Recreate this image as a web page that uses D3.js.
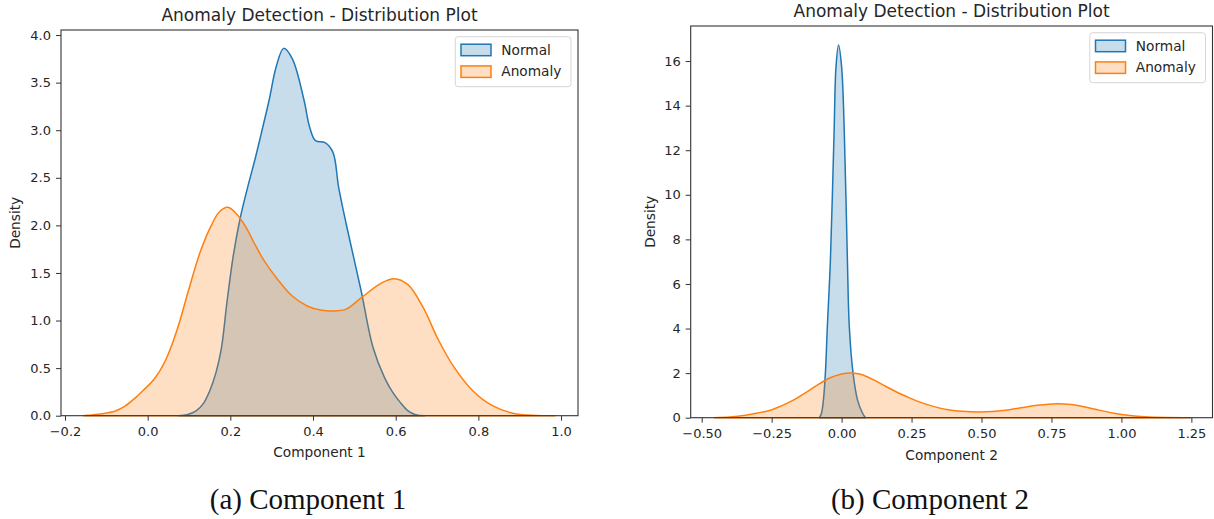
<!DOCTYPE html>
<html><head><meta charset="utf-8">
<script src="https://cdn.jsdelivr.net/npm/d3@7"></script>
<style>
html,body{margin:0;padding:0;background:#fff;}
svg{display:block;}
</style></head>
<body>
<svg id="chart" width="1214" height="519"></svg>
<script>
// ---------- DATA ----------
const seriesNames = ["Normal", "Anomaly"];
const colors = ["#1f77b4", "#ff7f0e"];

// Component 1 density
const c1NormalX = [0.075,0.095,0.117,0.135,0.150,0.165,0.178,0.192,0.207,0.224,0.243,0.260,0.275,0.294,0.311,0.329,0.350,0.378,0.392,0.406,0.429,0.448,0.462,0.480,0.499,0.517,0.545,0.573,0.592,0.611,0.630,0.648,0.670];
const c1NormalY = [0,0.01,0.05,0.13,0.26,0.45,0.70,1.20,1.68,2.08,2.42,2.70,2.97,3.32,3.67,3.86,3.75,3.32,3.03,2.89,2.87,2.77,2.40,2.02,1.65,1.30,0.72,0.40,0.25,0.14,0.05,0.01,0];
const c1AnomalyX = [-0.155,-0.143,-0.110,-0.078,-0.055,-0.032,-0.010,0.015,0.043,0.071,0.099,0.127,0.154,0.173,0.194,0.215,0.238,0.257,0.280,0.313,0.349,0.387,0.418,0.448,0.480,0.517,0.564,0.596,0.629,0.666,0.704,0.741,0.787,0.834,0.889,0.940,0.985];
const c1AnomalyY = [0,0.005,0.02,0.05,0.10,0.18,0.27,0.38,0.58,0.90,1.32,1.72,2.00,2.14,2.19,2.12,1.98,1.82,1.64,1.44,1.26,1.15,1.11,1.10,1.12,1.24,1.39,1.44,1.38,1.14,0.79,0.51,0.26,0.105,0.02,0.003,0];

// Component 2 density
const c2NormalX = [-0.079,-0.072,-0.065,-0.058,-0.051,-0.040,-0.027,-0.020,-0.011,0.000,0.0097,0.0207,0.0275,0.041,0.057,0.075,0.085];
const c2NormalY = [0,0.2,0.79,1.99,4.08,7.07,12.76,15.75,16.72,15.75,12.76,7.07,4.08,1.99,0.79,0.2,0];
const c2AnomalyX = [-0.455,-0.400,-0.343,-0.300,-0.249,-0.181,-0.113,-0.045,0.000,0.030,0.060,0.091,0.125,0.159,0.200,0.241,0.280,0.322,0.375,0.430,0.490,0.540,0.600,0.649,0.700,0.770,0.820,0.866,0.920,0.974,1.030,1.083,1.160,1.245];
const c2AnomalyY = [0,0.03,0.11,0.21,0.36,0.73,1.25,1.77,1.96,2.01,1.97,1.84,1.63,1.40,1.13,0.90,0.70,0.53,0.37,0.29,0.26,0.28,0.36,0.46,0.56,0.63,0.59,0.49,0.34,0.20,0.10,0.04,0.005,0];

// Tick labels
const c1XTicks = [-0.2,0.0,0.2,0.4,0.6,0.8,1.0];
const c1YTicks = [0,0.5,1.0,1.5,2.0,2.5,3.0,3.5,4.0];
const c2XTicks = [-0.5,-0.25,0,0.25,0.5,0.75,1.0,1.25];
const c2YTicks = [0,2,4,6,8,10,12,14,16];

const titles = ["Anomaly Detection - Distribution Plot","Anomaly Detection - Distribution Plot"];
const xLabels = ["Component 1","Component 2"];
const yLabel = "Density";
const captions = ["(a) Component 1","(b) Component 2"];

// ---------- DRAW ----------
const svg = d3.select("#chart");
const fmtMinus = s => s.replace("-", "\u2212");
const SANS = "'DejaVu Sans', sans-serif";
const TXT = "#262626";

const panels = [
  {x0:61, x1:578, y0:30, y1:415.7, xd:[-0.2097,1.041], yd:[0,4.053],
   xt:c1XTicks, yt:c1YTicks, xf:d=>fmtMinus(d3.format(".1f")(d)), yf:d=>d3.format(".1f")(d),
   data:[[c1NormalX,c1NormalY],[c1AnomalyX,c1AnomalyY]], title:titles[0], xl:xLabels[0],
   titleY:21, xlY:457, ylX:15, caption:captions[0], capX:308},
  {x0:690.7, x1:1212.5, y0:26, y1:417.7, xd:[-0.5393,1.3255], yd:[0,17.573],
   xt:c2XTicks, yt:c2YTicks, xf:d=>fmtMinus(d3.format(".2f")(d)), yf:d=>d3.format("d")(d),
   data:[[c2NormalX,c2NormalY],[c2AnomalyX,c2AnomalyY]], title:titles[1], xl:xLabels[1],
   titleY:17, xlY:460, ylX:650, caption:captions[1], capX:930}
];

panels.forEach(p => {
  const g = svg.append("g");
  const x = d3.scaleLinear().domain(p.xd).range([p.x0,p.x1]);
  const y = d3.scaleLinear().domain(p.yd).range([p.y1,p.y0]);

  // densities
  p.data.forEach((d,i) => {
    const pts = d[0].map((v,k)=>[v,d[1][k]]);
    const area = d3.area().x(q=>x(q[0])).y0(y(0)).y1(q=>Math.min(y(0), y(q[1]))).curve(d3.curveCatmullRom.alpha(0.5));
    g.append("path").attr("d", area(pts))
      .attr("fill", colors[i]).attr("fill-opacity", 0.25)
      .attr("stroke", colors[i]).attr("stroke-width", 1.5).attr("stroke-linejoin","round");
  });

  // axes
  const xa = g.append("g").attr("transform",`translate(0,${p.y1})`)
    .call(d3.axisBottom(x).tickValues(p.xt).tickFormat(p.xf).tickSizeOuter(0).tickSize(5).tickPadding(6));
  const ya = g.append("g").attr("transform",`translate(${p.x0},0)`)
    .call(d3.axisLeft(y).tickValues(p.yt).tickFormat(p.yf).tickSizeOuter(0).tickSize(5).tickPadding(5));
  [xa,ya].forEach(a=>{
    a.select(".domain").remove();
    a.selectAll(".tick line").attr("stroke","#333").attr("stroke-width",1);
    a.selectAll(".tick text").style("font-size","13px").style("font-family",SANS).attr("fill",TXT);
  });

  // frame
  g.append("rect").attr("x",p.x0).attr("y",p.y0).attr("width",p.x1-p.x0).attr("height",p.y1-p.y0)
    .attr("fill","none").attr("stroke","#333").attr("stroke-width",1.1);

  // title & labels
  const txt = (sel,size) => sel.style("font-family",SANS).style("font-size",size+"px").attr("fill",TXT);
  txt(g.append("text").attr("x",(p.x0+p.x1)/2).attr("y",p.titleY).attr("text-anchor","middle"),17).text(p.title);
  txt(g.append("text").attr("x",(p.x0+p.x1)/2).attr("y",p.xlY).attr("text-anchor","middle"),13.7).text(p.xl);
  txt(g.append("text").attr("transform",`translate(${p.ylX+5},${(p.y0+p.y1)/2}) rotate(-90)`)
    .attr("text-anchor","middle"),13.7).text(yLabel);

  // legend
  const lx = p.x1 - 7 - 115.7, ly = p.y0 + 6.7;
  const lg = g.append("g").attr("transform",`translate(${lx},${ly})`);
  lg.append("rect").attr("width",115.7).attr("height",50).attr("rx",3)
    .attr("fill","#fff").attr("fill-opacity",0.8).attr("stroke","#d6d6d6").attr("stroke-width",1);
  seriesNames.forEach((n,i)=>{
    lg.append("rect").attr("x",5.7).attr("y",7.5+i*21.7).attr("width",30).attr("height",11.5)
      .attr("fill",colors[i]).attr("fill-opacity",0.25).attr("stroke",colors[i]).attr("stroke-width",1.5);
    txt(lg.append("text").attr("x",46).attr("y",18+i*21.7),13.7).text(n);
  });

  // caption
  svg.append("text").attr("x",p.capX).attr("y",509).attr("text-anchor","middle")
    .style("font-family","'Liberation Serif', serif").style("font-size","29px").attr("fill","#111").text(p.caption);
});
</script>
</body></html>
